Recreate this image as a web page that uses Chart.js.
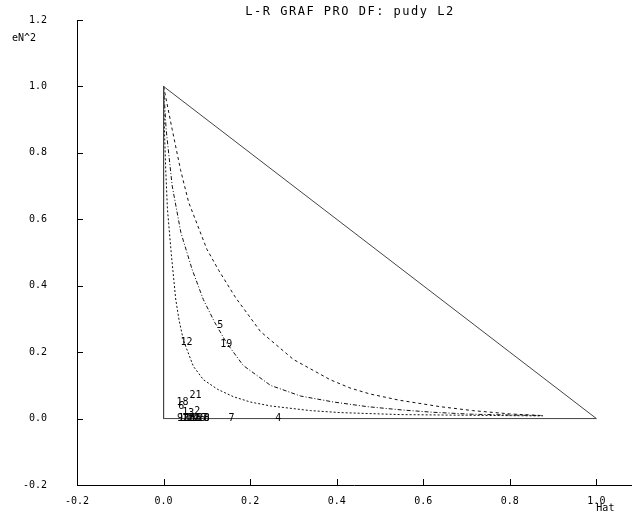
<!DOCTYPE html>
<html lang="en">
<head>
<meta charset="UTF-8">
<title>L-R GRAF</title>
<script src="https://cdn.jsdelivr.net/npm/chart.js"></script>
<style>
    * { margin: 0; padding: 0; }
    body { background-color: #fff; }
</style>
</head>
<body>
<canvas id="lrChart" width="633" height="515"></canvas>
<script>
const titleText = 'L-R GRAF PRO DF: pudy L2';
const yTitle = 'eN^2';
const xTitle = 'Hat';

// triangle outline
const edgeHat = [0, 0, 1, 0];
const edgeEn2 = [1, 0, 0, 1];

// contour curves
const curve1Hat = [0, 0.002, 0.005, 0.009, 0.018, 0.028, 0.036, 0.046, 0.069, 0.092, 0.125, 0.161, 0.200, 0.247, 0.339, 0.408, 0.546, 0.700, 0.876];
const curve1En2 = [1.0, 0.870, 0.750, 0.630, 0.494, 0.360, 0.295, 0.235, 0.157, 0.117, 0.088, 0.066, 0.050, 0.038, 0.024, 0.018, 0.012, 0.010, 0.008];

const curve2Hat = [0, 0.006, 0.020, 0.040, 0.066, 0.092, 0.118, 0.145, 0.184, 0.247, 0.316, 0.392, 0.470, 0.550, 0.622, 0.714, 0.876];
const curve2En2 = [1.0, 0.870, 0.700, 0.560, 0.449, 0.358, 0.290, 0.229, 0.160, 0.100, 0.068, 0.050, 0.036, 0.026, 0.019, 0.013, 0.009];

const curve3Hat = [0, 0.020, 0.039, 0.058, 0.100, 0.128, 0.166, 0.224, 0.300, 0.385, 0.431, 0.477, 0.546, 0.638, 0.714, 0.800, 0.876];
const curve3En2 = [1.0, 0.870, 0.750, 0.651, 0.510, 0.445, 0.365, 0.262, 0.178, 0.117, 0.092, 0.074, 0.055, 0.036, 0.024, 0.014, 0.009];

// observations
const obsLabels = ['1', '2', '3', '4', '5', '6', '7', '8', '9', '10', '11', '12', '13', '14', '15', '16', '17', '18', '19', '20', '21', '22', '23'];
const obsHat = [0.050, 0.078, 0.064, 0.265, 0.131, 0.041, 0.157, 0.100, 0.038, 0.048, 0.056, 0.053, 0.062, 0.068, 0.075, 0.083, 0.088, 0.044, 0.145, 0.092, 0.074, 0.070, 0.058];
const obsEn2 = [0.020, 0.021, 0.017, 0.000, 0.280, 0.036, 0.001, 0.001, 0.002, 0.001, 0.000, 0.229, 0.001, 0.002, 0.000, 0.001, 0.000, 0.048, 0.223, 0.000, 0.069, 0.001, 0.002];

const xTicks = { min: -0.2, max: 1.08, step: 0.2 };
const yTicks = { min: -0.2, max: 1.2, step: 0.2 };

function zip(xs, ys) {
    return xs.map(function (x, i) { return { x: x, y: ys[i] }; });
}

function fmt(v) {
    if (Math.abs(v) < 1e-9) return '0.0';
    return v.toFixed(1);
}

const monoFont = '"DejaVu Sans Mono", monospace';

// draws tick marks inside the plot, titles and the observation numbers
const extrasPlugin = {
    id: 'extras',
    afterDraw: function (chart) {
        const ctx = chart.ctx;
        const area = chart.chartArea;
        const xs = chart.scales.x;
        const ys = chart.scales.y;
        ctx.save();
        ctx.strokeStyle = '#000';
        ctx.lineWidth = 1;
        ctx.beginPath();
        xs.ticks.forEach(function (t) {
            const px = Math.round(xs.getPixelForValue(t.value)) + 0.5;
            ctx.moveTo(px, area.bottom);
            ctx.lineTo(px, area.bottom - 6);
        });
        ys.ticks.forEach(function (t) {
            const py = Math.round(ys.getPixelForValue(t.value)) + 0.5;
            ctx.moveTo(area.left, py);
            ctx.lineTo(area.left + 6, py);
        });
        ctx.stroke();

        ctx.fillStyle = '#000';
        ctx.font = '12px ' + monoFont;
        ctx.letterSpacing = '1.5px';
        ctx.textAlign = 'center';
        ctx.textBaseline = 'middle';
        ctx.fillText(titleText, (area.left + area.right) / 2 - 4, 12);
        ctx.letterSpacing = '0px';

        ctx.font = '10px ' + monoFont;
        ctx.textAlign = 'left';
        ctx.fillText(yTitle, 12, ys.getPixelForValue(1.2) + 18);
        ctx.textAlign = 'center';
        ctx.fillText(xTitle, xs.getPixelForValue(1.0) + 9, area.bottom + 23);

        const meta = chart.getDatasetMeta(4);
        ctx.font = '10px ' + monoFont;
        meta.data.forEach(function (pt, i) {
            ctx.fillText(obsLabels[i], pt.x, pt.y);
        });
        ctx.restore();
    }
};

const lineStyle = { showLine: true, pointRadius: 0, borderWidth: 1, borderColor: '#111', fill: false };

new Chart(document.getElementById('lrChart'), {
    type: 'scatter',
    data: {
        datasets: [
            Object.assign({ label: 'edge', data: zip(edgeHat, edgeEn2) }, lineStyle, { borderColor: '#444' }),
            Object.assign({ label: 'c1', data: zip(curve1Hat, curve1En2), borderDash: [2, 2] }, lineStyle),
            Object.assign({ label: 'c2', data: zip(curve2Hat, curve2En2), borderDash: [4, 2, 1, 2] }, lineStyle),
            Object.assign({ label: 'c3', data: zip(curve3Hat, curve3En2), borderDash: [3, 3] }, lineStyle),
            { label: 'obs', data: zip(obsHat, obsEn2), pointRadius: 0, showLine: false }
        ]
    },
    options: {
        responsive: false,
        devicePixelRatio: 1,
        animation: false,
        layout: { padding: { left: 0, top: 20, right: 2, bottom: 0 } },
        plugins: {
            legend: { display: false },
            tooltip: { enabled: false }
        },
        scales: {
            x: {
                type: 'linear',
                min: xTicks.min,
                max: xTicks.max,
                grid: { display: true, drawOnChartArea: false, drawTicks: false, tickLength: 0 },
                border: { display: true, color: '#000', width: 1 },
                ticks: {
                    stepSize: xTicks.step,
                    includeBounds: false,
                    padding: 10,
                    color: '#000',
                    maxRotation: 0,
                    font: { family: monoFont, size: 10 },
                    callback: fmt
                },
                afterFit: function (scale) { scale.height = 30; }
            },
            y: {
                type: 'linear',
                min: yTicks.min,
                max: yTicks.max,
                grid: { display: true, drawOnChartArea: false, drawTicks: false, tickLength: 0 },
                border: { display: true, color: '#000', width: 1 },
                ticks: {
                    stepSize: yTicks.step,
                    padding: 30,
                    color: '#000',
                    font: { family: monoFont, size: 10 },
                    callback: fmt
                },
                afterFit: function (scale) {
                    scale.width = 77;
                    scale.paddingTop = 6;
                    scale.paddingBottom = 6;
                }
            }
        }
    },
    plugins: [extrasPlugin]
});
</script>
</body>
</html>
